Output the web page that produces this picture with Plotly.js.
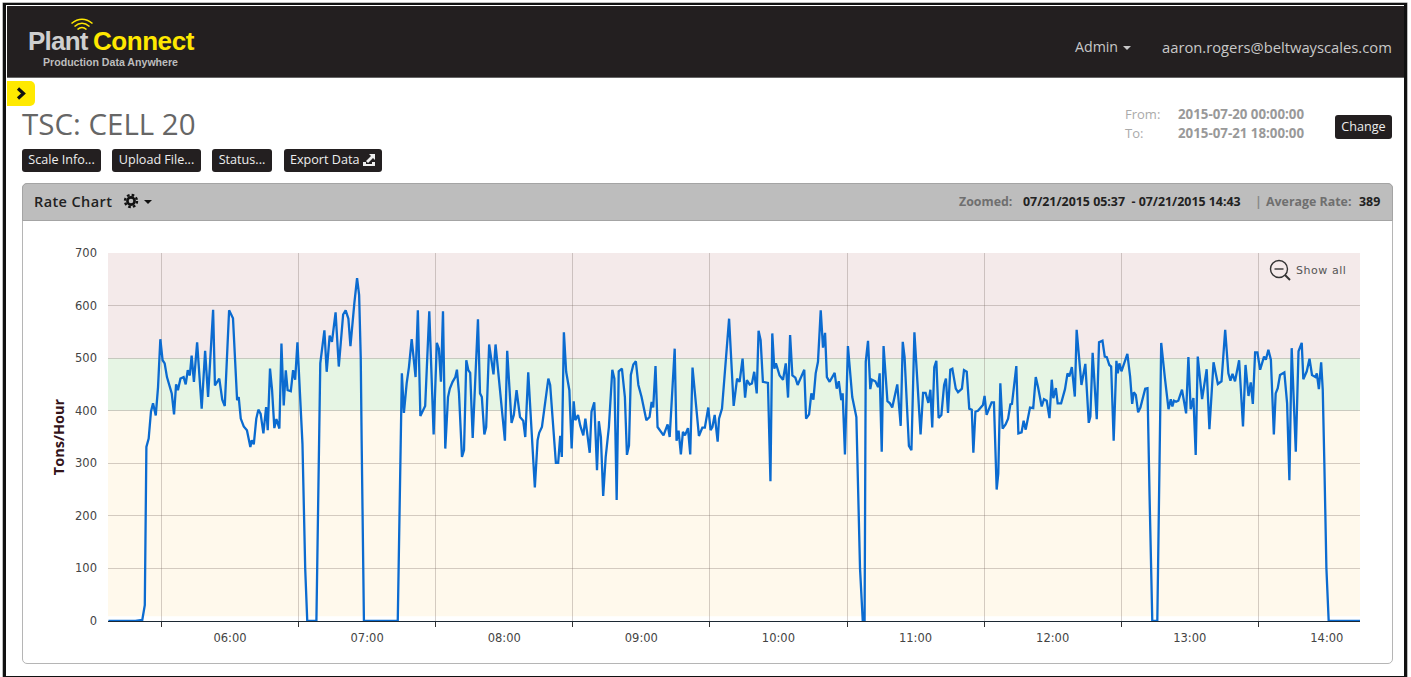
<!DOCTYPE html>
<html><head><meta charset="utf-8">
<script src="https://cdn.plot.ly/plotly-3.0.1.min.js"></script>
<style>
html,body{margin:0;padding:0;background:#fff;width:1411px;height:677px;overflow:hidden;font-family:"Open Sans",sans-serif}
.abs{position:absolute;white-space:nowrap}
#frame{left:3px;top:3px;width:1398px;height:671px;border:3px solid #111;border-top-width:2px;border-bottom-width:3px;z-index:5;pointer-events:none;box-shadow:0 0 0 0.5px #777}
#hdr{left:7px;top:6px;width:1397px;height:71px;background:#231f20;border-bottom:1px solid #666}
.btn{position:absolute;top:149px;height:23px;line-height:22px;background:#231f20;color:#eee;font-size:12.6px;border-radius:3px;text-align:center;border:0;white-space:nowrap}
#panel{left:22px;top:183px;width:1369px;height:479px;border:1px solid #b5b5b5;border-radius:5px;box-sizing:content-box}
#phead{left:22px;top:183px;width:1369px;height:36px;background:#bdbdbd;border:1px solid #a4a4a4;border-radius:5px 5px 0 0}
#chart{position:absolute;left:0;top:0;width:1411px;height:677px;z-index:2}
.top{z-index:3}
</style></head><body>
<div class="abs" id="hdr"></div>
<div class="abs top" style="left:28px;top:26px;font:bold 26px 'Liberation Sans';letter-spacing:-0.8px;color:#cfcfcf">Plant</div>
<div class="abs top" style="left:93px;top:26px;font:bold 26px 'Liberation Sans';letter-spacing:-0.45px;color:#ffe800">Connect</div>
<div class="abs top" style="left:43px;top:56px;font:bold 10.6px 'Liberation Sans';color:#bdbdbd">Production Data Anywhere</div>
<svg class="abs top" style="left:68px;top:16px" width="28" height="20" fill="none" stroke="#ffe800" stroke-width="1.6">
<path d="M3.5 7.5Q14-1 24.5 7.5M6.5 10.5Q14 4 21.5 10.5M9.5 13.5Q14 9.5 18.5 13.5"/></svg>
<div class="abs top" style="left:1075px;top:37px;font-size:14.2px;color:#c8c8c8">Admin</div>
<svg class="abs top" style="left:1123px;top:46px" width="10" height="5"><path d="M0 0H8L4 4Z" fill="#c8c8c8"/></svg>
<div class="abs top" style="left:1162px;top:37px;font-size:14.75px;color:#c8c8c8">aaron.rogers@beltwayscales.com</div>

<div class="abs" style="left:7px;top:81px;width:28px;height:25px;background:#ffe900;border-radius:0 5px 5px 0"></div>
<svg class="abs top" style="left:16px;top:87px" width="12" height="13"><path d="M2 1.5L7.5 6.5L2 11.5" fill="none" stroke="#111" stroke-width="3.2"/></svg>
<div class="abs" style="left:22px;top:103px;font-size:29.5px;color:#666">TSC: CELL 20</div>
<div class="btn" style="left:22px;width:79px">Scale Info...</div>
<div class="btn" style="left:112px;width:89px">Upload File...</div>
<div class="btn" style="left:212px;width:60px">Status...</div>
<div class="btn" style="left:284px;width:98px;text-align:left;padding-left:6px;box-sizing:border-box">Export Data</div>
<svg class="abs top" style="left:362px;top:153px" width="14" height="14"><path d="M1 9V13H13V9H10V11H4V9Z" fill="#eee"/><path d="M4 8L9 3L7 1H13V7L11 5L6 10Z" fill="#eee"/></svg>
<div class="abs" style="left:1125px;top:105px;font-size:13px;color:#aaa">From:</div>
<div class="abs" style="left:1125px;top:124px;font-size:13px;color:#aaa">To:</div>
<div class="abs" style="left:1178px;top:105px;font-size:13.3px;font-weight:700;color:#999">2015-07-20 00:00:00</div>
<div class="abs" style="left:1178px;top:124px;font-size:13.3px;font-weight:700;color:#999">2015-07-21 18:00:00</div>
<div class="btn" style="left:1335px;top:115px;width:57px;height:24px;line-height:23px">Change</div>

<div class="abs" id="panel"></div>
<div class="abs" id="phead"></div>
<div class="abs top" style="left:34px;top:192px;font-size:14.5px;font-weight:600;color:#222;letter-spacing:.4px">Rate Chart</div>
<svg class="abs top" style="left:123px;top:193px" width="16" height="16" fill="none" stroke="#111"><circle cx="8" cy="8" r="3.6" stroke-width="2.6"/><circle cx="8" cy="8" r="6" stroke-width="2.4" stroke-dasharray="2.6 2.1"/></svg>
<svg class="abs top" style="left:144px;top:200px" width="9" height="5"><path d="M0 0H8L4 4Z" fill="#111"/></svg>
<div class="abs top" style="left:959px;top:193px;font-size:12.4px;font-weight:700;color:#6f6f6f">Zoomed:</div>
<div class="abs top" style="left:1023px;top:193px;font-size:12.4px;font-weight:700;color:#222">07/21/2015 05:37&nbsp; - 07/21/2015 14:43</div>
<div class="abs top" style="left:1255px;top:193px;font-size:12.4px;font-weight:700;color:#888">|</div>
<div class="abs top" style="left:1266px;top:193px;font-size:12.4px;font-weight:700;color:#6f6f6f">Average Rate:</div>
<div class="abs top" style="left:1359px;top:193px;font-size:12.4px;font-weight:700;color:#222">389</div>

<div id="chart"></div>
<svg class="abs top" style="left:1269px;top:259px" width="23" height="23" fill="none" stroke="#333" stroke-width="1.4"><circle cx="10" cy="10" r="8.5"/><path d="M5.5 10H14.5"/><path d="M16 16L21 21" stroke-width="2"/></svg>
<div class="abs top" style="left:1296px;top:264px;font:11px 'DejaVu Sans';letter-spacing:.55px;color:#555">Show all</div>
<div class="abs" id="frame"></div>

<script>
// minutes after midnight on 2015-07-21
const minutes = [
336.8,348.6,351.6,352.7,353.4,354.4,355.4,356.3,357.5,358.5,359.5,360.5,361.4,362.4,364.5,365.5,366.4,367.2,368.3,369.7,
370.6,371.5,372.4,373.2,374.2,375.6,377.6,379.1,380.4,382.6,383.4,385.3,386.6,387.7,389.6,391.3,393.1,393.8,394.7,396.0,
397.4,398.9,399.5,400.4,401.5,402.4,403.4,404.6,405.8,406.5,407.5,408.4,409.4,410.3,411.6,412.5,413.5,414.4,415.2,416.6,
417.6,418.5,419.5,420.8,421.7,422.9,423.8,427.8,428.6,429.5,431.3,432.3,433.6,434.6,436.2,437.6,439.5,440.6,441.8,442.7,
444.4,445.6,446.5,447.2,447.6,448.6,463.4,465.2,466.1,467.3,468.3,469.5,471.2,472.2,473.3,475.4,477.2,479.1,480.5,481.4,
482.3,483.2,484.2,485.4,486.2,487.4,488.6,489.3,490.2,491.5,492.4,493.4,494.3,495.1,496.2,498.5,499.4,500.2,501.3,502.1,
503.4,505.3,506.2,510.3,511.3,513.2,514.2,515.4,516.9,518.3,519.2,520.5,523.4,524.6,525.3,526.5,529.3,530.1,532.6,533.6,
534.5,535.2,536.1,537.1,538.5,539.5,540.4,541.1,542.3,543.3,544.6,545.5,547.4,548.2,549.4,550.6,551.4,552.3,553.3,554.4,
555.8,557.3,558.2,559.2,560.1,561.5,562.8,563.7,564.6,565.4,566.5,567.6,568.7,570.1,572.2,573.6,574.5,575.2,576.2,577.1,
579.7,581.5,582.4,584.6,585.4,586.3,587.3,588.2,589.1,590.4,591.4,592.4,595.2,596.7,597.8,599.3,600.3,601.1,602.1,603.4,
604.0,605.3,608.4,610.4,611.9,613.0,614.3,615.4,616.2,617.4,618.4,619.4,620.5,621.3,622.2,623.2,625.4,626.5,627.3,628.2,
628.9,630.5,632.0,633.2,634.2,635.1,636.1,637.4,638.4,641.3,642.1,643.4,644.4,645.3,646.3,647.3,648.5,649.5,650.4,651.2,
652.4,654.6,655.5,656.4,657.5,658.1,659.1,660.4,662.3,664.1,665.7,666.9,667.7,668.2,669.2,670.2,670.9,672.4,673.6,674.3,
675.2,676.0,677.7,678.8,679.8,682.0,683.5,684.4,685.2,687.1,688.2,689.5,692.2,693.3,694.4,695.6,696.5,697.3,698.2,699.1,
700.1,701.3,702.5,703.3,704.2,705.2,706.1,707.6,708.6,710.3,711.2,712.4,713.5,714.6,715.3,716.2,717.3,719.5,720.2,721.1,
723.3,724.3,725.5,726.2,727.1,728.1,729.4,730.5,731.5,732.2,734.1,735.0,736.4,737.3,738.2,740.1,741.5,742.6,743.6,745.2,
746.2,747.4,748.6,749.6,750.3,751.4,752.2,753.7,755.4,756.5,757.3,758.4,759.7,760.5,762.6,764.3,765.8,766.5,767.5,769.3,
770.3,771.8,772.8,773.7,774.8,775.6,776.7,777.9,778.5,779.2,780.1,782.7,783.9,784.8,785.5,786.4,787.4,788.4,790.5,791.5,
792.4,793.6,795.8,796.7,797.5,799.2,800.7,801.7,802.4,803.1,804.0,805.0,806.6,808.4,809.4,810.4,811.6,812.6,813.5,815.4,
817.4,818.6,820.4,822.3,823.9,825.5,826.9,827.8,828.7,829.8,831.6,833.3,834.4,835.7,836.7,837.6,838.6,839.6,840.8,842.5,
843.3,844.4,845.5,846.8,847.6,848.5,849.5,851.4,852.6,853.6,854.6,856.4,857.6,859.0,859.7,861.2,862.4,863.5,865.0,865.6,
866.5,867.5,868.2,868.9,869.8,870.8,884.7
];
const rates = [
0,0,2,30,331,347,398,414,391,445,536,496,490,464,433,393,450,439,461,464,
450,477,467,505,455,530,404,514,426,592,448,461,421,409,591,576,420,426,385,370,
363,331,344,336,385,402,394,357,407,363,480,439,367,384,366,528,410,477,439,437,
477,459,530,407,337,100,0,0,260,490,553,474,543,531,587,484,583,591,575,523,
604,652,620,502,344,0,0,471,396,452,483,536,464,591,390,409,589,355,529,518,
455,589,328,426,442,455,464,478,433,312,325,496,477,472,348,574,433,426,355,369,
526,469,526,343,514,377,392,439,388,381,350,473,254,344,358,369,461,449,301,301,
352,312,549,474,439,328,418,382,392,371,353,385,320,398,416,287,380,350,238,312,
369,478,461,230,475,480,426,316,334,468,488,494,449,426,382,388,417,406,485,369,
353,374,350,518,343,362,317,360,353,367,317,482,352,368,368,406,363,369,392,341,
385,404,575,409,461,455,499,425,458,450,452,474,433,552,534,455,453,266,547,480,
490,467,459,490,425,544,467,463,449,478,385,393,433,421,471,493,591,520,548,464,
455,472,442,456,420,433,317,523,426,388,100,0,0,493,533,441,459,456,445,471,
322,523,418,414,406,450,371,531,502,333,325,549,355,434,434,415,440,368,483,495,
386,392,449,461,396,478,480,442,435,442,477,474,404,402,320,398,400,411,428,392,
416,416,250,280,452,366,374,385,412,413,485,357,359,381,364,406,405,464,445,408,
422,419,386,459,424,443,414,414,441,471,465,483,427,554,449,489,377,389,510,384,
530,533,503,502,487,484,343,495,471,490,475,508,465,413,435,430,397,406,442,443,
240,0,0,338,529,459,403,422,408,419,417,419,440,395,502,403,424,316,503,422,
479,365,492,451,456,554,471,457,470,456,496,370,487,428,454,413,511,511,478,503,
497,516,497,355,433,443,468,473,414,268,519,322,513,529,460,475,499,468,464,471,
441,492,440,300,100,0,0
];
const yTickValues = [0,100,200,300,400,500,600,700];
const xLabelPositions = ["06:30","07:30","08:30","09:30","10:30","11:30","12:30","13:30","14:30"];
const xLabels = ["06:00","07:00","08:00","09:00","10:00","11:00","12:00","13:00","14:00"];
const bandLimits = {lowFloor:9, low:400, target:500, high:700};
const axisStart = "2015-07-21 05:36:36";
const axisEnd = "2015-07-21 14:44:30";

function stamp(m){
  const totalSec = Math.round(m*60);
  const p = n => String(n).padStart(2,"0");
  return "2015-07-21 "+p(Math.floor(totalSec/3600))+":"+p(Math.floor(totalSec/60)%60)+":"+p(totalSec%60);
}
const band = (y0,y1,color)=>({type:"rect",layer:"below",xref:"paper",x0:0,x1:1,yref:"y",y0,y1,fillcolor:color,line:{width:0}});
const gridColor = "rgba(120,105,100,0.32)";
Plotly.newPlot("chart",[{
  type:"scatter",mode:"lines",x:minutes.map(stamp),y:rates,cliponaxis:false,
  line:{color:"#0b6bd0",width:2.3},hoverinfo:"skip"
},{
  type:"scatter",mode:"lines",x:[axisStart,axisEnd],y:[null,null],xaxis:"x2",yaxis:"y",hoverinfo:"skip",line:{width:0}
}],{
  width:1411,height:677,showlegend:false,
  paper_bgcolor:"rgba(0,0,0,0)",plot_bgcolor:"rgba(0,0,0,0)",
  margin:{l:108,r:51,t:253,b:56.4,pad:0},
  shapes:[
    band(bandLimits.target,bandLimits.high,"#f4eaea"),
    band(bandLimits.low,bandLimits.target,"#e6f5e4"),
    band(bandLimits.lowFloor,bandLimits.low,"#fff9ec")
  ],
  xaxis:{type:"date",range:[axisStart,axisEnd],tick0:"2015-07-21 00:00:00",dtick:3600000,
    showticklabels:false,ticks:"outside",ticklen:5,tickcolor:"#333",tickwidth:1,
    showline:true,linecolor:"#1c2833",linewidth:1,showgrid:true,gridcolor:gridColor,gridwidth:1,
    zeroline:false},
  xaxis2:{type:"date",overlaying:"x",anchor:"y",side:"bottom",range:[axisStart,axisEnd],tickmode:"array",
    tickvals:xLabelPositions.map(t=>"2015-07-21 "+t),ticktext:xLabels,ticks:"outside",ticklen:5,tickcolor:"rgba(0,0,0,0)",
    showgrid:false,showline:false,zeroline:false,
    tickfont:{family:"DejaVu Sans",size:11.5,color:"#444"},ticklabelstandoff:1},
  yaxis:{range:[0,700],tickmode:"array",tickvals:yTickValues,ticks:"",showline:false,zeroline:false,
    gridcolor:gridColor,gridwidth:1,ticklabelstandoff:10,automargin:true,
    tickfont:{family:"DejaVu Sans",size:11.5,color:"#444"},
    title:{text:"Tons/Hour",standoff:6,font:{family:"Open Sans",size:14.5,weight:700,color:"#33141a"}}}
},{staticPlot:true,displayModeBar:false});
</script>
</body></html>
